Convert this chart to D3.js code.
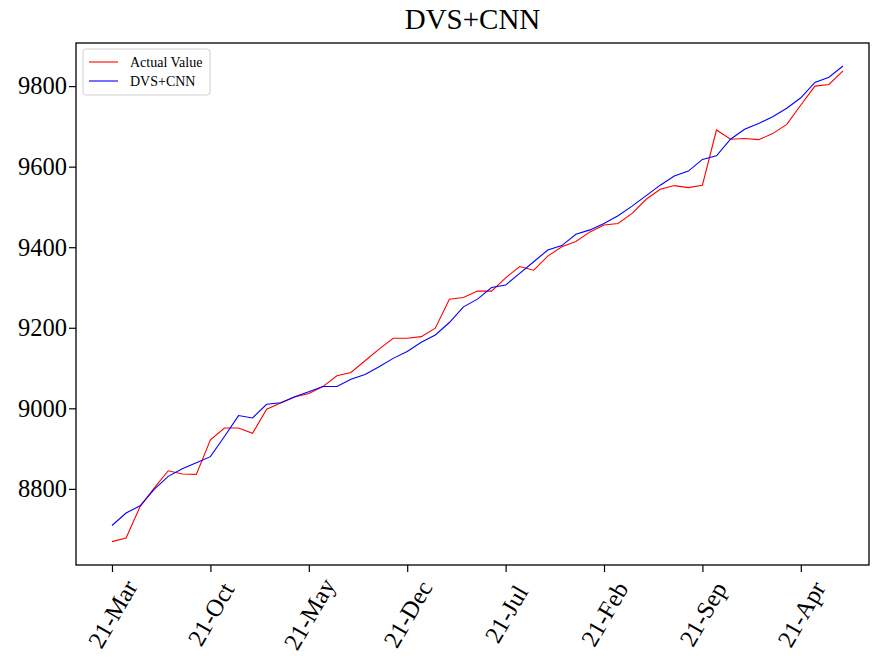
<!DOCTYPE html>
<html>
<head>
<meta charset="utf-8">
<script src="https://cdn.jsdelivr.net/npm/d3@7"></script>
<style>
  body { margin: 0; background: #fff; }
  text { font-family: "Liberation Serif", "Times New Roman", serif; }
</style>
</head>
<body>
<div id="chart"></div>
<script>
// monthly values
var actual = [8669, 8678, 8756, 8802, 8845, 8837, 8836, 8922, 8951, 8951,
  8938, 8998, 9013, 9028, 9037, 9054, 9081, 9089, 9118, 9147,
  9174, 9174, 9178, 9199, 9271, 9275, 9291, 9291, 9324, 9352,
  9343, 9378, 9401, 9414, 9438, 9455, 9459, 9484, 9519, 9544,
  9553, 9548, 9554, 9691, 9668, 9670, 9667, 9682, 9705, 9753,
  9800, 9804, 9838];
var predicted = [8709, 8740, 8758, 8799, 8831, 8850, 8865, 8880, 8930, 8982,
  8976, 9010, 9014, 9029, 9041, 9054, 9054, 9072, 9084, 9103,
  9124, 9141, 9164, 9182, 9213, 9252, 9271, 9300, 9306, 9335,
  9364, 9393, 9404, 9432, 9443, 9459, 9478, 9502, 9528, 9554,
  9577, 9589, 9618, 9627, 9668, 9693, 9707, 9724, 9745, 9771,
  9809, 9822, 9850];
var tickIndex = [0, 7, 14, 21, 28, 35, 42, 49];
var tickLabels = ["21-Mar", "21-Oct", "21-May", "21-Dec", "21-Jul", "21-Feb", "21-Sep", "21-Apr"];
var yTicks = [8800, 9000, 9200, 9400, 9600, 9800];
var seriesNames = ["Actual Value", "DVS+CNN"];
var seriesColors = ["red", "blue"];

var W = 885, H = 667;
var margin = {top: 43, right: 16, bottom: 102, left: 76};
var width = W - margin.left - margin.right,
    height = H - margin.top - margin.bottom;

var svg = d3.select("#chart").append("svg")
    .attr("width", W)
    .attr("height", H);

svg.append("text")
    .attr("x", margin.left + width / 2)
    .attr("y", 29)
    .attr("text-anchor", "middle")
    .style("font-size", "29px")
    .text("DVS+CNN");

var g = svg.append("g")
    .attr("transform", "translate(" + margin.left + "," + margin.top + ")");

var x = d3.scaleLinear()
    .domain([-2.56, 53.85])
    .range([0, width]);

var y = d3.scaleLinear()
    .domain([8611, 9907])
    .range([height, 0]);

// axes
var xAxis = g.append("g")
    .attr("transform", "translate(0," + height + ")")
    .call(d3.axisBottom(x).tickValues(tickIndex).tickSize(7).tickFormat(function(d, i) { return tickLabels[i]; }));
xAxis.select(".domain").remove();
xAxis.selectAll("line").attr("stroke", "#000").attr("stroke-width", 1.2);
xAxis.selectAll("text")
    .attr("y", 0).attr("dy", null)
    .attr("text-anchor", "middle")
    .attr("dominant-baseline", "central")
    .attr("transform", "translate(0,49) rotate(-60)")
    .style("font-size", "24.5px")
    .attr("fill", "#000");

var yAxis = g.append("g")
    .call(d3.axisLeft(y).tickValues(yTicks).tickSize(7).tickFormat(d3.format("d")));
yAxis.select(".domain").remove();
yAxis.selectAll("line").attr("stroke", "#000").attr("stroke-width", 1.2);
yAxis.selectAll("text")
    .attr("x", -9)
    .style("font-size", "24.5px")
    .attr("fill", "#000");

// lines
var line = d3.line()
    .x(function(d, i) { return x(i); })
    .y(function(d) { return y(d); });

[actual, predicted].forEach(function(s, k) {
  g.append("path")
      .datum(s)
      .attr("fill", "none")
      .attr("stroke", seriesColors[k])
      .attr("stroke-width", 1.1)
      .attr("d", line);
});

// frame
g.append("rect")
    .attr("width", width)
    .attr("height", height)
    .attr("fill", "none")
    .attr("stroke", "#000")
    .attr("stroke-width", 1.3);

// legend
var lg = g.append("g").attr("transform", "translate(7,6)");
lg.append("rect")
    .attr("width", 127)
    .attr("height", 46)
    .attr("rx", 3)
    .attr("fill", "#fff")
    .attr("fill-opacity", 0.8)
    .attr("stroke", "#d0d0d0");
seriesNames.forEach(function(n, k) {
  var yy = 13 + k * 19;
  lg.append("line")
      .attr("x1", 6).attr("x2", 35)
      .attr("y1", yy).attr("y2", yy)
      .attr("stroke", seriesColors[k])
      .attr("stroke-width", 1.1);
  lg.append("text")
      .attr("x", 47)
      .attr("y", yy)
      .attr("dominant-baseline", "central")
      .style("font-size", "14px")
      .text(n);
});
</script>
</body>
</html>
